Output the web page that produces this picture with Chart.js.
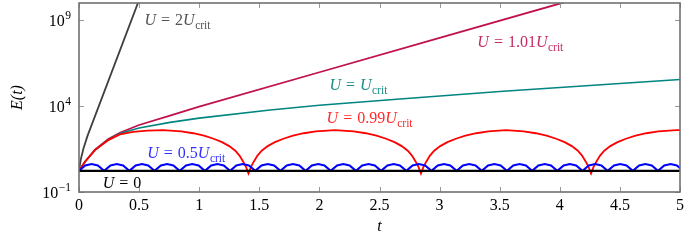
<!DOCTYPE html>
<html>
<head>
<meta charset="utf-8">
<script src="https://cdn.jsdelivr.net/npm/chart.js@4.4.1/dist/chart.umd.min.js"></script>
<style>
  html, body { margin: 0; padding: 0; background: #fff; }
</style>
</head>
<body>
<canvas id="energyChart" width="692" height="240"></canvas>
<script>
// tick values
const xTicks = [0, 0.5, 1, 1.5, 2, 2.5, 3, 3.5, 4, 4.5, 5];
const xTickLabels = ["0", "0.5", "1", "1.5", "2", "2.5", "3", "3.5", "4", "4.5", "5"];
const yTicks = [0.1, 1e4, 1e9];
const yTickExp = ["\u22121", "4", "9"];

// U = 0
const tZero = [0, 5];
const eZero = [1.7, 1.7];

// U = 0.5 Ucrit
const tHalf = [
  0, 0.052, 0.105, 0.157, 0.209, 0.262, 0.314, 0.367, 0.419, 0.471, 0.524, 0.576,
  0.628, 0.681, 0.733, 0.785, 0.838, 0.890, 0.942, 0.995, 1.047, 1.100, 1.152, 1.204,
  1.257, 1.309, 1.361, 1.414, 1.466, 1.518, 1.571, 1.623, 1.676, 1.728, 1.780, 1.833,
  1.885, 1.937, 1.990, 2.042, 2.094, 2.147, 2.199, 2.251, 2.304, 2.356, 2.409, 2.461,
  2.513, 2.566, 2.618, 2.670, 2.723, 2.775, 2.827, 2.880, 2.932, 2.985, 3.037, 3.089,
  3.142, 3.194, 3.246, 3.299, 3.351, 3.403, 3.456, 3.508, 3.560, 3.613, 3.665, 3.718,
  3.770, 3.822, 3.875, 3.927, 3.979, 4.032, 4.084, 4.136, 4.189, 4.241, 4.294, 4.346,
  4.398, 4.451, 4.503, 4.555, 4.608, 4.660, 4.712, 4.765, 4.817, 4.869, 4.922, 4.974,
  5.027
];
const eHalf = [
  1.7, 3.5, 4.25, 3.5, 1.7, 3.5, 4.25, 3.5, 1.7, 3.5, 4.25, 3.5,
  1.7, 3.5, 4.25, 3.5, 1.7, 3.5, 4.25, 3.5, 1.7, 3.5, 4.25, 3.5,
  1.7, 3.5, 4.25, 3.5, 1.7, 3.5, 4.25, 3.5, 1.7, 3.5, 4.25, 3.5,
  1.7, 3.5, 4.25, 3.5, 1.7, 3.5, 4.25, 3.5, 1.7, 3.5, 4.25, 3.5,
  1.7, 3.5, 4.25, 3.5, 1.7, 3.5, 4.25, 3.5, 1.7, 3.5, 4.25, 3.5,
  1.7, 3.5, 4.25, 3.5, 1.7, 3.5, 4.25, 3.5, 1.7, 3.5, 4.25, 3.5,
  1.7, 3.5, 4.25, 3.5, 1.7, 3.5, 4.25, 3.5, 1.7, 3.5, 4.25, 3.5,
  1.7, 3.5, 4.25, 3.5, 1.7, 3.5, 4.25, 3.5, 1.7, 3.5, 4.25, 3.5,
  1.7
];

// U = 0.99 Ucrit
const tNear = [
  0, 0.05, 0.133, 0.244, 0.34, 0.45, 0.57, 0.7,
  0.85, 0.95, 1.04, 1.12, 1.19, 1.25, 1.30, 1.335, 1.365, 1.39, 1.41,
  1.43, 1.455, 1.485, 1.52, 1.57, 1.63, 1.70, 1.78, 1.87, 1.97, 2.128,
  2.285, 2.385, 2.475, 2.555, 2.625, 2.685, 2.735, 2.77, 2.80, 2.825, 2.845,
  2.865, 2.89, 2.92, 2.955, 3.005, 3.065, 3.135, 3.215, 3.305, 3.405, 3.553,
  3.70, 3.80, 3.89, 3.97, 4.04, 4.10, 4.15, 4.185, 4.215, 4.24, 4.26,
  4.28, 4.305, 4.335, 4.37, 4.42, 4.48, 4.55, 4.63, 4.72, 4.82, 4.97, 5.0
];
const eNear = [
  1.7, 5.75, 27.5, 105, 224, 316, 372, 398,
  339, 263, 191, 126, 79.4, 46.8, 25.1, 13.2, 6.03, 2.82, 1.2,
  2.82, 6.03, 13.2, 25.1, 46.8, 79.4, 126, 191, 263, 339, 398,
  339, 263, 191, 126, 79.4, 46.8, 25.1, 13.2, 6.03, 2.82, 1.2,
  2.82, 6.03, 13.2, 25.1, 46.8, 79.4, 126, 191, 263, 339, 398,
  339, 263, 191, 126, 79.4, 46.8, 25.1, 13.2, 6.03, 2.82, 1.2,
  2.82, 6.03, 13.2, 25.1, 46.8, 79.4, 126, 191, 263, 339, 398, 398
];

// U = Ucrit
const tCrit = [0, 0.05, 0.133, 0.244, 0.34, 0.5, 0.757, 1.0, 1.59, 2.0, 2.67, 3.5, 4.25, 5.0];
const eCrit = [1.7, 5.75, 27.5, 112, 251, 525, 1122, 1995, 5890, 11220, 25700, 70800, 158500, 354800];

// U = 1.01 Ucrit
const tAbove = [0, 0.05, 0.133, 0.244, 0.34, 0.5, 0.757, 1.0, 2.0, 3.0, 4.0, 4.1];
const eAbove = [1.7, 5.75, 28.8, 120, 282, 794, 2820, 9330, 9.33e5, 9.33e7, 9.33e9, 1.48e10];

// U = 2 Ucrit
const tTwice = [0, 0.015, 0.036, 0.07, 0.5];
const eTwice = [1.7, 7.94, 31.6, 178, 1.51e10];

// curve labels: coefficient in front of U_crit, left position and baseline
const labelCoef = ["0", "0.5", "0.99", "", "1.01", "2"];
const labelCrit = [false, true, true, true, true, true];
const labelT = [0.197, 0.568, 2.06, 2.083, 3.314, 0.545];
const labelE = [0.171, 9.5, 1020, 85000, 2.7e7, 5.1e8];
const labelColor = ["#000000", "#3030ff", "#ff2a2a", "#1a8d87", "#c42a64", "#555555"];

const serif = "'Liberation Serif', 'Times New Roman', serif";

function points(ts, es) {
    return ts.map((t, i) => ({ x: t, y: es[i] }));
}

const framePlugin = {
    id: "frame",
    afterDatasetsDraw(chart) {
        const { ctx, chartArea: a, scales: { x, y } } = chart;
        ctx.save();
        ctx.strokeStyle = "#9a9a9a";
        ctx.lineWidth = 1;
        ctx.beginPath();
        xTicks.forEach(v => {
            const px = Math.round(x.getPixelForValue(v)) + 0.5;
            ctx.moveTo(px, a.bottom); ctx.lineTo(px, a.bottom - 5);
            ctx.moveTo(px, a.top); ctx.lineTo(px, a.top + 5);
        });
        yTicks.forEach(v => {
            const py = Math.round(y.getPixelForValue(v)) + 0.5;
            ctx.moveTo(a.left, py); ctx.lineTo(a.left + 5, py);
            ctx.moveTo(a.right, py); ctx.lineTo(a.right - 5, py);
        });
        ctx.stroke();
        ctx.strokeStyle = "#707070";
        ctx.lineWidth = 1.6;
        ctx.strokeRect(a.left, a.top, a.right - a.left, a.bottom - a.top);

        // y tick labels as 10 with a raised exponent
        ctx.fillStyle = "#000";
        ctx.textBaseline = "alphabetic";
        ctx.textAlign = "right";
        yTicks.forEach((v, i) => {
            const py = y.getPixelForValue(v) + 5.5;
            const right = a.left - 8;
            ctx.font = "11.5px " + serif;
            const ew = ctx.measureText(yTickExp[i]).width;
            ctx.fillText(yTickExp[i], right, py - 6.5);
            ctx.font = "16px " + serif;
            ctx.fillText("10", right - ew - 0.5, py);
        });
        ctx.restore();
    }
};

const labelPlugin = {
    id: "curveLabels",
    afterDatasetsDraw(chart) {
        const { ctx, scales: { x, y } } = chart;
        ctx.save();
        ctx.textBaseline = "alphabetic";
        ctx.textAlign = "left";
        labelCoef.forEach((coef, i) => {
            let px = x.getPixelForValue(labelT[i]);
            const py = y.getPixelForValue(labelE[i]);
            ctx.fillStyle = labelColor[i];
            ctx.font = "italic 16px " + serif;
            ctx.fillText("U", px, py);
            px += ctx.measureText("U").width + 5;
            ctx.font = "16px " + serif;
            ctx.fillText("=", px, py);
            px += ctx.measureText("=").width + 5;
            if (coef) {
                ctx.fillText(coef, px, py);
                px += ctx.measureText(coef).width;
            }
            if (labelCrit[i]) {
                ctx.font = "italic 16px " + serif;
                ctx.fillText("U", px, py);
                px += ctx.measureText("U").width + 0.5;
                ctx.font = "11.5px " + serif;
                ctx.fillText("crit", px, py + 3.5);
            }
        });
        ctx.restore();
    }
};

const ctx = document.getElementById("energyChart").getContext("2d");

new Chart(ctx, {
    type: "line",
    data: {
        datasets: [
            { label: "U = 0", data: points(tZero, eZero), borderColor: "#000000", borderWidth: 2.4 },
            { label: "U = 0.5Ucrit", data: points(tHalf, eHalf), borderColor: "#0000ff", borderWidth: 2 },
            { label: "U = 0.99Ucrit", data: points(tNear, eNear), borderColor: "#ff0000", borderWidth: 1.8 },
            { label: "U = Ucrit", data: points(tCrit, eCrit), borderColor: "#008580", borderWidth: 1.6 },
            { label: "U = 1.01Ucrit", data: points(tAbove, eAbove), borderColor: "#c0104e", borderWidth: 1.8 },
            { label: "U = 2Ucrit", data: points(tTwice, eTwice), borderColor: "#404040", borderWidth: 1.8 }
        ]
    },
    options: {
        responsive: false,
        animation: false,
        events: [],
        layout: { padding: { left: 0, right: 12, top: 3, bottom: 0 } },
        elements: {
            point: { radius: 0 },
            line: { tension: 0, fill: false }
        },
        plugins: {
            legend: { display: false },
            tooltip: { enabled: false }
        },
        scales: {
            x: {
                type: "linear",
                min: 0,
                max: 5,
                afterBuildTicks: s => { s.ticks = xTicks.map(v => ({ value: v })); },
                afterFit: s => { s.height = 48; s.paddingLeft = 0; s.paddingRight = 0; },
                grid: { display: false, drawTicks: false },
                border: { display: false },
                ticks: {
                    color: "#000",
                    padding: 4,
                    maxRotation: 0,
                    autoSkip: false,
                    font: { family: serif, size: 16 },
                    callback: (v, i) => xTickLabels[i]
                },
                title: {
                    display: true,
                    text: "t",
                    color: "#000",
                    padding: { top: 0, bottom: 4 },
                    font: { family: serif, size: 16, style: "italic" }
                }
            },
            y: {
                type: "logarithmic",
                min: 0.1,
                max: 1e10,
                afterBuildTicks: s => { s.ticks = yTicks.map(v => ({ value: v })); },
                afterFit: s => { s.width = 79; s.paddingTop = 0; s.paddingBottom = 0; },
                grid: { display: false, drawTicks: false },
                border: { display: false },
                ticks: { display: false },
                title: {
                    display: true,
                    text: "E(t)",
                    color: "#000",
                    padding: { top: 8, bottom: 0 },
                    font: { family: serif, size: 16, style: "italic" }
                }
            }
        }
    },
    plugins: [framePlugin, labelPlugin]
});
</script>
</body>
</html>
